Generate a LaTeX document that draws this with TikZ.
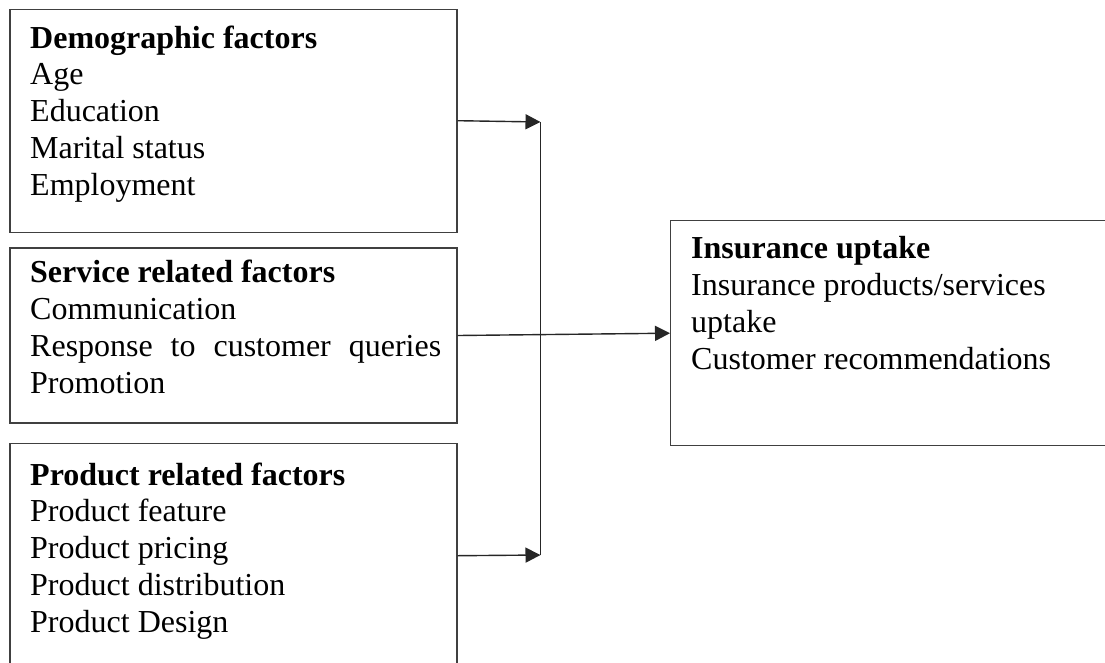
\documentclass[tikz,border=0pt]{standalone}
\usepackage{fontspec}
\setmainfont{Liberation Serif}
\usetikzlibrary{arrows.meta,calc}
\begin{document}
\begin{tikzpicture}[x=1pt,y=-1pt,
  box/.style={draw=black!75,line width=1.4pt,rectangle,inner sep=0pt,anchor=north west},
  txt/.style={anchor=base west,align=left,inner sep=0pt,font=\fontsize{32}{36.7}\selectfont},
  conn/.style={draw=black!85,line width=1.4pt},
  arr/.style={conn,-{Triangle[length=15pt,width=15pt]}}]
\useasboundingbox (0,0) rectangle (1105,662);
\clip (0,0) rectangle (1105,662);
\node[box,minimum width=447pt,minimum height=223pt] (b1) at (9.3,8.5) {};
\node[box,minimum width=447pt,minimum height=175pt] (b2) at (9.3,247.3) {};
\node[box,minimum width=447pt,minimum height=224pt] (b3) at (9.3,443) {};
\node[box,minimum width=460pt,minimum height=225pt] (out) at (670,220) {};
% anchor base = baseline of the last line
\node[txt] (t1) at (30,195) {\textbf{Demographic factors}\\Age\\Education\\Marital status\\Employment};
\node[txt] (t2) at (30,393) {\textbf{Service related factors}\\Communication\\\makebox[411pt][s]{Response to customer queries}\\Promotion};
\node[txt] (t3) at (30,632) {\textbf{Product related factors}\\Product feature\\Product pricing\\Product distribution\\Product Design};
\node[txt] (t4) at (691,369) {\textbf{Insurance uptake}\\Insurance products/services\\uptake\\Customer recommendations};
\coordinate (j1) at (540.5,122);
\coordinate (j2) at (540.5,555);
\draw[conn] (j1) -- (j2);
\draw[arr] (b1.east) -- (j1);
\draw[arr] (b3.east) -- (j2);
\draw[arr] (b2.east) -- (out.west);
\end{tikzpicture}
\end{document}
